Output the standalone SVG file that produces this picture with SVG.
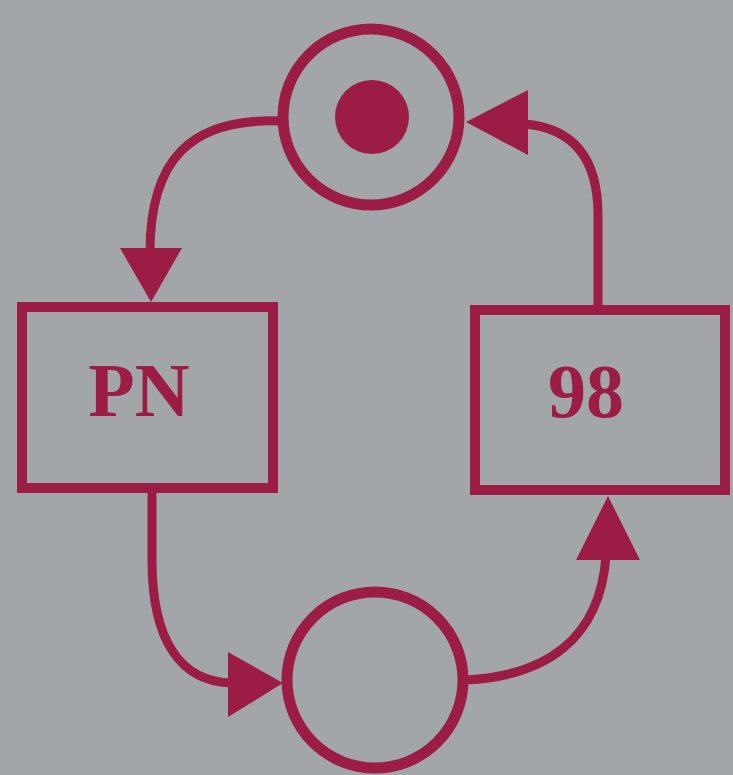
<svg xmlns="http://www.w3.org/2000/svg" width="733" height="775" viewBox="0 0 733 775">
  <style>
    .bg { fill: #a3a6a9; }
    .place { fill: none; stroke: #9b1c45; stroke-width: 11; }
    .token { fill: #9b1c45; }
    .trans { fill: none; stroke: #9b1c45; stroke-width: 10; }
    .arc { fill: none; stroke: #9b1c45; stroke-width: 9; }
    .head { fill: #9b1c45; }
    .label { font-family: "Liberation Serif", "Times New Roman", serif; font-weight: bold; font-size: 76px; fill: #9b1c45; text-anchor: middle; }
  </style>
  <rect class="bg" x="0" y="0" width="733" height="775"/>

  <g id="connectors">
    <!-- upper place to PN -->
    <path class="arc" d="M 280 121 C 190 118 150 160 150 252"/>
    <polygon class="head" points="120,248 182,248 151,302"/>
    <!-- 98 to upper place -->
    <path class="arc" d="M 524 124 C 575 128 598 160 598 215 L 598 306"/>
    <polygon class="head" points="466,122 528,90 528,155"/>
    <!-- PN to lower place -->
    <path class="arc" d="M 152 493 L 152 560 C 152 640 180 682 232 683"/>
    <polygon class="head" points="283,683 228,652 228,717"/>
    <!-- lower place to 98 -->
    <path class="arc" d="M 466 680 C 545 676 600 640 606 556"/>
    <polygon class="head" points="608,496 576,560 640,560"/>
  </g>

  <g id="place-top">
    <circle class="place" cx="371" cy="117" r="88"/>
    <circle class="token" cx="372" cy="117" r="37"/>
  </g>

  <g id="place-bottom">
    <circle class="place" cx="375" cy="680" r="88"/>
  </g>

  <g id="transition-pn">
    <rect class="trans" x="22" y="307" width="251" height="181"/>
    <text class="label" x="139" y="416">PN</text>
  </g>

  <g id="transition-98">
    <rect class="trans" x="475" y="310" width="250" height="180"/>
    <text class="label" x="586" y="417">98</text>
  </g>
</svg>
